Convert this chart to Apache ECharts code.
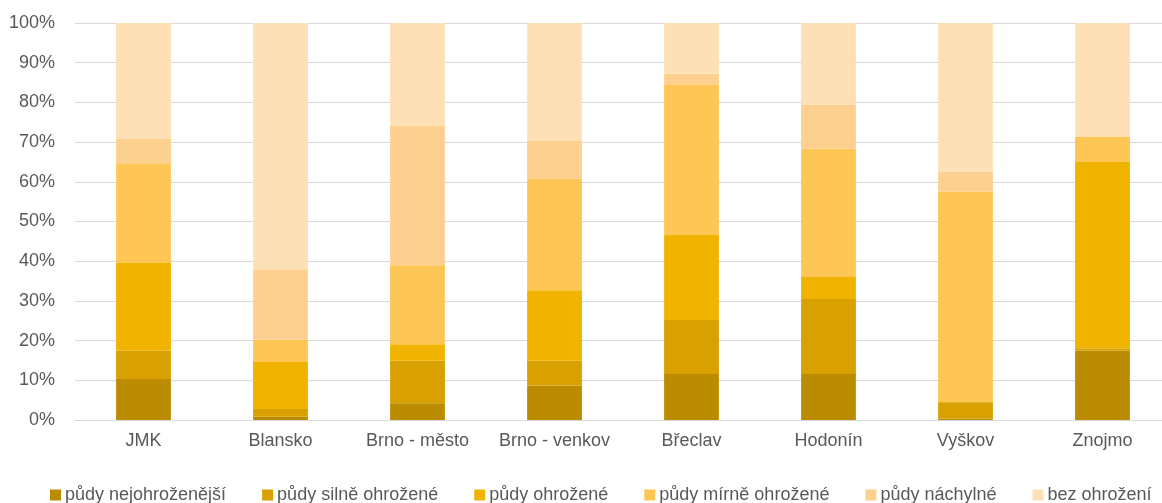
<!DOCTYPE html>
<html><head><meta charset="utf-8">
<script src="https://cdn.jsdelivr.net/npm/echarts@6/dist/echarts.min.js"></script>
<style>html,body{margin:0;padding:0;background:#fff}#c{width:1162px;height:503px}</style>
</head><body><div id="c"></div>
<script>
const categories = ['JMK','Blansko','Brno - město','Brno - venkov','Břeclav','Hodonín','Vyškov','Znojmo'];
const seriesNames = ['půdy nejohroženější','půdy silně ohrožené','půdy ohrožené','půdy mírně ohrožené','půdy náchylné','bez ohrožení'];
const nejohrozenejsi = [10.3, 0.8, 4.2, 8.6, 11.6, 11.6, 0.4, 17.5];
const silneOhrozene  = [7.2, 2.0, 10.7, 6.3, 13.6, 18.9, 4.1, 0.6];
const ohrozene       = [22.2, 11.8, 4.2, 17.8, 21.4, 5.5, 0.2, 46.9];
const mirneOhrozene  = [25.0, 5.6, 19.9, 28.1, 38.0, 32.3, 52.8, 6.3];
const nachylne       = [6.3, 17.8, 35.2, 9.5, 2.6, 11.2, 5.1, 0.0];
const bezOhrozeni    = [29.0, 62.0, 25.8, 29.7, 12.8, 20.5, 37.4, 28.7];
const yTicks = [0,10,20,30,40,50,60,70,80,90,100];
const colors = ['#BC8C00','#D8A000','#F0B400','#FEC655','#FED08F','#FEE0B6'];
const allData = [nejohrozenejsi, silneOhrozene, ohrozene, mirneOhrozene, nachylne, bezOhrozeni];

const chart = echarts.init(document.getElementById('c'), null, {renderer:'canvas'});
chart.setOption({
  animation:false,
  textStyle:{fontFamily:'Liberation Sans, Arial, sans-serif'},
  grid:{left:75, top:23, width:1096, height:397, containLabel:false, outerBoundsMode:'none'},
  legend:{
    top:481, left:45, width:1400, itemWidth:11, itemHeight:11, itemGap:36, icon:'rect',
    textStyle:{color:'#595959', fontSize:18, padding:[0,0,0,-1]},
    data:seriesNames
  },
  xAxis:{
    type:'category', data:categories,
    axisLine:{lineStyle:{color:'#d9d9d9', width:1}},
    axisTick:{show:false},
    axisLabel:{color:'#595959', fontSize:18, margin:12, interval:0}
  },
  yAxis:{
    type:'value', min:yTicks[0], max:yTicks[yTicks.length-1], interval:10,
    axisLine:{show:false}, axisTick:{show:false},
    splitLine:{lineStyle:{color:'#d9d9d9', width:1}},
    axisLabel:{color:'#595959', fontSize:18, margin:20, formatter: v => v + '%'}
  },
  series: seriesNames.map((n,i)=>({
    name:n, type:'bar', stack:'s', barWidth:'40%',
    itemStyle:{color:colors[i]},
    data:allData[i]
  }))
});
</script></body></html>
